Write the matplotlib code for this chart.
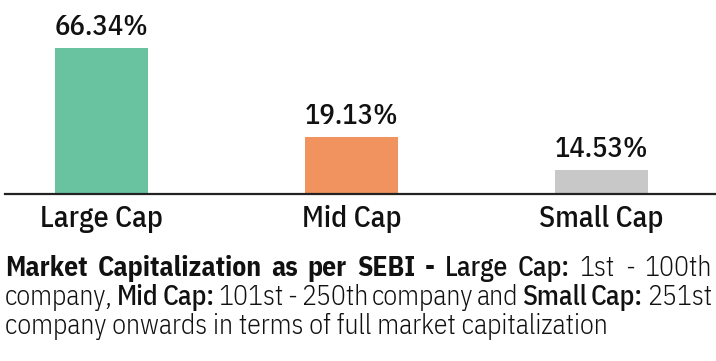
import matplotlib
matplotlib.use("Agg")
import matplotlib.pyplot as plt

# ---- data ----
categories = ["Large Cap", "Mid Cap", "Small Cap"]
shares = [66.34, 19.13, 14.53]                 # printed values (%)
bar_lengths = [66.34, 25.9, 10.9]              # drawn bar lengths
bar_colors = ["#69c3a0", "#f0935e", "#c8c8c8"]

caption_line1 = [("Market", 700), ("Capitalization", 700), ("as", 700), ("per", 700),
                 ("SEBI", 700), ("-", 700), ("Large", 500), ("Cap:", 500),
                 ("1st", 300), ("-", 300), ("100th", 300)]
caption_line2 = [("company,", 300), ("Mid", 500), ("Cap:", 500), ("101st", 300), ("-", 300),
                 ("250th", 300), ("company", 300), ("and", 300), ("Small", 500),
                 ("Cap:", 500), ("251st", 300)]
caption_line3 = "company onwards in terms of full market capitalization"

FONT = "IBM Plex Sans Condensed"
W, H = 716, 361
fig = plt.figure(figsize=(W / 100, H / 100), dpi=100)
fig.patch.set_facecolor("white")

base_px = 194
ax = fig.add_axes([5 / W, (H - base_px) / H, 1 - 5 / W, base_px / H])
ax.set_facecolor("none")
xs = list(range(len(categories)))
ax.bar(xs, bar_lengths, width=0.372, color=bar_colors, zorder=2)
ax.set_xlim(-0.386, 2.458)
ax.set_ylim(0, 88.2)
for s in ["top", "right", "left"]:
    ax.spines[s].set_visible(False)
ax.spines["bottom"].set_color("#222222")
ax.spines["bottom"].set_linewidth(1.6)
ax.set_yticks([])
ax.set_xticks([])

for x, h, v in zip(xs, bar_lengths, shares):
    ax.annotate(f"{v:.2f}%", xy=(x, h), xytext=(0, 5), textcoords="offset points",
                ha="center", va="bottom", fontsize=20.5, family=FONT, weight=500,
                color="#111111")

tr = ax.get_xaxis_transform()
for x, c in zip(xs, categories):
    ax.text(x, -(227 - base_px) / base_px, c, transform=tr, ha="center", va="baseline",
            fontsize=21.5, family=FONT, weight=500, color="#111111")

# ---- caption (justified) ----
renderer = fig.canvas.get_renderer()
left_px, right_px = 5, 712
baselines = [276, 305, 334]

probe = fig.text(0, 0, caption_line3, fontsize=18, family=FONT, weight=300)
w3 = probe.get_window_extent(renderer).width
probe.remove()
cap_size = 18 * 603 / w3


def justified(tokens, base):
    texts = []
    for word, wt in tokens:
        t = fig.text(0, (H - base) / H, word, fontsize=cap_size, family=FONT, weight=wt,
                     color="#111111", va="baseline", ha="left")
        texts.append(t)
    widths = [t.get_window_extent(renderer).width for t in texts]
    gap = (right_px - left_px - sum(widths)) / (len(texts) - 1)
    x = left_px
    for t, w in zip(texts, widths):
        t.set_x(x / W)
        x += w + gap


justified(caption_line1, baselines[0])
justified(caption_line2, baselines[1])
fig.text(left_px / W, (H - baselines[2]) / H, caption_line3, fontsize=cap_size, family=FONT,
         weight=300, color="#111111", va="baseline", ha="left")

fig.savefig("out.png", dpi=100)
